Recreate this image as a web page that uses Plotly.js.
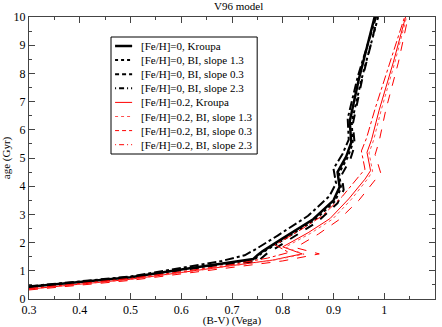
<!DOCTYPE html>
<html>
<head>
<meta charset="utf-8">
<script src="https://cdn.plot.ly/plotly-3.0.1.min.js"></script>
<style>
  body { margin: 0; }
  #myGraph { width: 442px; height: 327px; }
</style>
</head>
<body>
<div id="myGraph"></div>
<script>
// 曲線資料
let k0_x = [0.30, 0.40, 0.50, 0.60, 0.68, 0.742, 0.750, 0.760, 0.800, 0.860, 0.900, 0.912, 0.908, 0.925, 0.935, 0.932, 0.950, 0.981];
let k0_y = [0.43, 0.60, 0.77, 1.05, 1.27, 1.42, 1.55, 1.69, 2.15, 2.83, 3.50, 3.97, 4.50, 5.05, 5.55, 6.30, 7.80, 10.0];

let b13_0_x = [0.30, 0.40, 0.50, 0.60, 0.68, 0.745, 0.752, 0.762, 0.803, 0.863, 0.903, 0.915, 0.911, 0.928, 0.938, 0.936, 0.955, 0.988];
let b13_0_y = [0.43, 0.60, 0.77, 1.04, 1.25, 1.40, 1.53, 1.67, 2.12, 2.80, 3.47, 3.94, 4.47, 5.02, 5.52, 6.27, 7.78, 10.0];

let b03_0_x = [0.30, 0.40, 0.50, 0.60, 0.68, 0.752, 0.758, 0.768, 0.808, 0.868, 0.908, 0.920, 0.916, 0.933, 0.942, 0.938, 0.956, 0.987];
let b03_0_y = [0.42, 0.58, 0.75, 1.02, 1.22, 1.33, 1.45, 1.60, 2.05, 2.73, 3.40, 3.87, 4.40, 4.95, 5.45, 6.20, 7.75, 10.0];

let b23_0_x = [0.30, 0.40, 0.50, 0.60, 0.68, 0.725, 0.735, 0.748, 0.790, 0.850, 0.892, 0.905, 0.900, 0.918, 0.930, 0.928, 0.948, 0.984];
let b23_0_y = [0.45, 0.62, 0.80, 1.10, 1.35, 1.55, 1.65, 1.78, 2.25, 2.95, 3.65, 4.10, 4.62, 5.15, 5.65, 6.40, 7.90, 10.0];

let k2_x = [0.30, 0.40, 0.50, 0.60, 0.70, 0.78, 0.838, 0.800, 0.850, 0.893, 0.930, 0.962, 0.973, 0.966, 0.975, 0.990, 1.018, 1.042];
let k2_y = [0.35, 0.52, 0.70, 0.94, 1.18, 1.38, 1.60, 1.85, 2.35, 2.85, 3.55, 4.25, 4.55, 5.20, 5.65, 6.70, 8.40, 10.0];

let b13_2_x = [0.30, 0.40, 0.50, 0.60, 0.70, 0.78, 0.842, 0.805, 0.855, 0.898, 0.935, 0.966, 0.977, 0.970, 0.979, 0.994, 1.021, 1.044];
let b13_2_y = [0.35, 0.51, 0.69, 0.93, 1.17, 1.37, 1.59, 1.84, 2.33, 2.83, 3.53, 4.23, 4.53, 5.18, 5.63, 6.70, 8.40, 10.0];

let b03_2_x = [0.30, 0.40, 0.50, 0.60, 0.70, 0.80, 0.872, 0.825, 0.870, 0.910, 0.950, 0.982, 0.993, 0.982, 0.990, 1.003, 1.028, 1.047];
let b03_2_y = [0.32, 0.48, 0.66, 0.89, 1.12, 1.35, 1.60, 1.82, 2.30, 2.80, 3.50, 4.20, 4.47, 5.12, 5.60, 6.70, 8.40, 10.0];

let b23_2_x = [0.30, 0.40, 0.50, 0.60, 0.70, 0.77, 0.812, 0.785, 0.835, 0.878, 0.918, 0.950, 0.962, 0.955, 0.965, 0.982, 1.012, 1.040];
let b23_2_y = [0.37, 0.54, 0.73, 0.97, 1.22, 1.45, 1.65, 1.92, 2.45, 2.95, 3.65, 4.35, 4.60, 5.25, 5.70, 6.75, 8.45, 10.0];

let names = [
    '[Fe/H]=0, Kroupa',
    '[Fe/H]=0, BI, slope 1.3',
    '[Fe/H]=0, BI, slope 0.3',
    '[Fe/H]=0, BI, slope 2.3',
    '[Fe/H]=0.2, Kroupa',
    '[Fe/H]=0.2, BI, slope 1.3',
    '[Fe/H]=0.2, BI, slope 0.3',
    '[Fe/H]=0.2, BI, slope 2.3'
];

// 線條樣式
let colors = ['black', 'black', 'black', 'black', '#ff0000', '#ff5050', '#ff0000', '#ff0000'];
let widths = [2.5, 2, 2, 2, 1, 1, 1, 1];
let dashes = ['solid', 'dot', 'dash', 'dashdot', 'solid', 'dot', 'dash', 'dashdot'];

let xs = [k0_x, b13_0_x, b03_0_x, b23_0_x, k2_x, b13_2_x, b03_2_x, b23_2_x];
let ys = [k0_y, b13_0_y, b03_0_y, b23_0_y, k2_y, b13_2_y, b03_2_y, b23_2_y];

let data = [];
for (let i = 0; i < names.length; i++) {
    data.push({
        type: 'scatter',
        mode: 'lines',
        name: names[i],
        x: xs[i],
        y: ys[i],
        line: { color: colors[i], width: widths[i], dash: dashes[i] }
    });
}

// 圖例 (Plotly 內建圖例行距太大, 改用 shapes + annotations)
let plotTop = 17, plotH = 282;
function py(pix) { return (plotTop + plotH - pix) / plotH; }

let legendDash = ['solid', 'dot', '4px,3px', '1px,3px,5px,3px'];

let shapes = [{
    type: 'rect', xref: 'paper', yref: 'paper',
    x0: 0.202, x1: 0.562, y0: py(154), y1: py(37),
    line: { color: 'black', width: 1 }, fillcolor: 'white', layer: 'above'
}];
let annotations = [];
for (let i = 0; i < names.length; i++) {
    let yy = py(46 + 14.1 * i);
    shapes.push({
        type: 'line', xref: 'paper', yref: 'paper',
        x0: 0.212, x1: 0.254, y0: yy, y1: yy,
        line: { color: colors[i], width: widths[i], dash: legendDash[i % 4] },
        layer: 'above'
    });
    annotations.push({
        xref: 'paper', yref: 'paper',
        x: 0.272, y: yy, xanchor: 'left', yanchor: 'middle',
        text: names[i], showarrow: false,
        font: { family: 'Liberation Serif', size: 11, color: 'black' }
    });
}

let axisStyle = {
    showgrid: false,
    zeroline: false,
    showline: true,
    linecolor: '#444',
    linewidth: 1,
    mirror: 'ticks',
    ticks: 'inside',
    ticklen: 6,
    tickcolor: '#444',
    tickfont: { family: 'Liberation Serif', size: 12, color: 'black' }
};

let layout = {
    width: 442,
    height: 327,
    margin: { l: 29, r: 7, t: 17, b: 28 },
    paper_bgcolor: 'white',
    plot_bgcolor: 'white',
    font: { family: 'Liberation Serif', color: 'black' },
    title: {
        text: 'V96 model',
        font: { family: 'Liberation Serif', size: 11 },
        x: 0.54, xanchor: 'center', y: 0.992, yanchor: 'top'
    },
    showlegend: false,
    shapes: shapes,
    annotations: annotations,
    xaxis: Object.assign({}, axisStyle, {
        range: [0.3, 1.1],
        dtick: 0.1,
        tick0: 0.3,
        minor: { dtick: 0.05, ticks: 'inside', ticklen: 3, tickcolor: '#444' },
        title: { text: '(B-V) (Vega)', font: { family: 'Liberation Serif', size: 11 }, standoff: 1 }
    }),
    yaxis: Object.assign({}, axisStyle, {
        range: [0, 10],
        dtick: 1,
        minor: { dtick: 0.5, ticks: 'inside', ticklen: 3, tickcolor: '#444' },
        title: { text: 'age (Gyr)', font: { family: 'Liberation Serif', size: 11 }, standoff: 1 }
    })
};

Plotly.newPlot('myGraph', data, layout, { staticPlot: true });
</script>
</body>
</html>
